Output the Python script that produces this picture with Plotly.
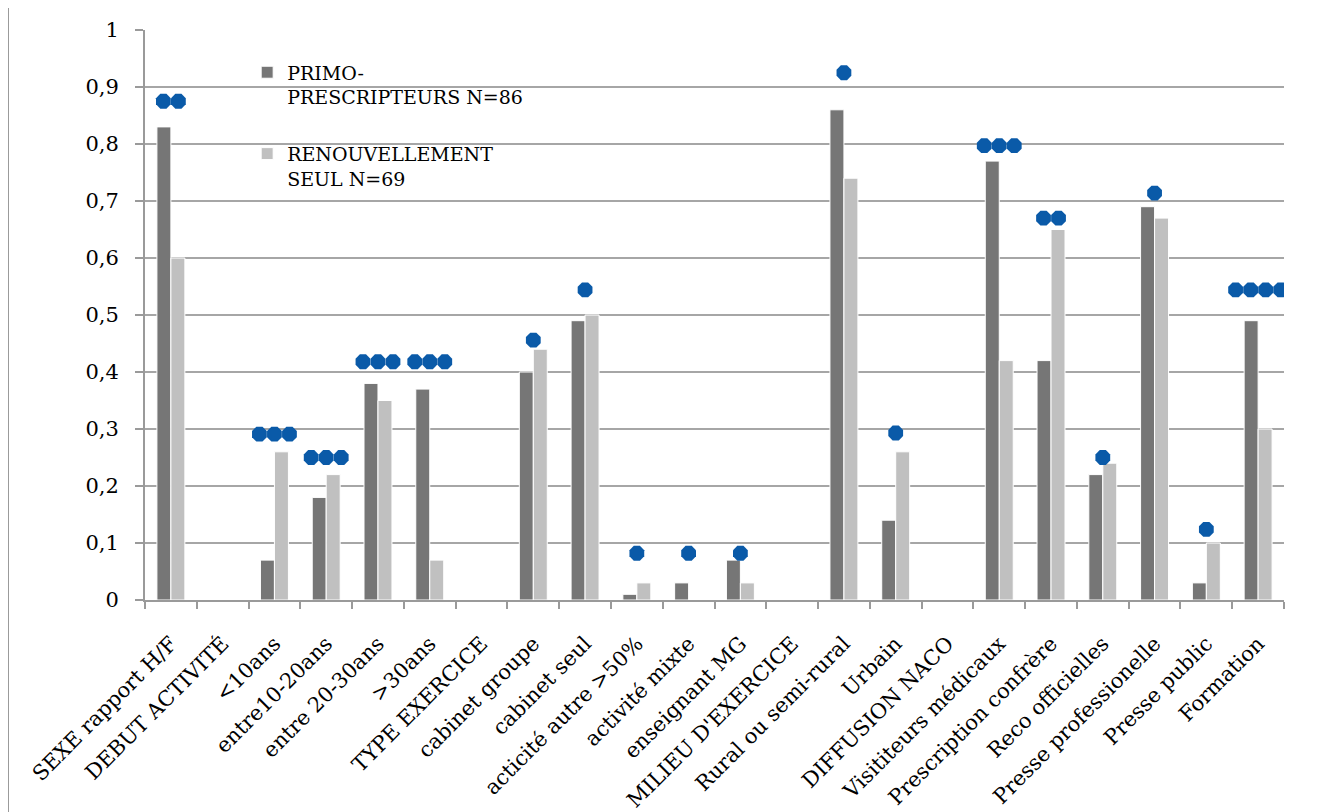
import plotly.graph_objects as go

categories = [
    "SEXE rapport H/F", "DEBUT ACTIVITÉ", "<10ans", "entre10-20ans", "entre 20-30ans",
    ">30ans", "TYPE EXERCICE", "cabinet groupe", "cabinet seul", "acticité autre >50%",
    "activité mixte", "enseignant MG", "MILIEU D'EXERCICE", "Rural ou semi-rural", "Urbain",
    "DIFFUSION NACO", "Visititeurs médicaux", "Prescription confrère", "Reco officielles",
    "Presse professionelle", "Presse public", "Formation",
]
primo = [0.83, None, 0.07, 0.18, 0.38, 0.37, None, 0.40, 0.49, 0.01, 0.03, 0.07, None,
         0.86, 0.14, None, 0.77, 0.42, 0.22, 0.69, 0.03, 0.49]
renouv = [0.60, None, 0.26, 0.22, 0.35, 0.07, None, 0.44, 0.50, 0.03, None, 0.03, None,
          0.74, 0.26, None, 0.42, 0.65, 0.24, 0.67, 0.10, 0.30]
# significance markers: number of stars and their height per category
star_count = [2, 0, 3, 3, 3, 3, 0, 1, 1, 1, 1, 1, 0, 1, 1, 0, 3, 2, 1, 1, 1, 4]
star_level = [0.875, None, 0.291, 0.25, 0.418, 0.418, None, 0.456, 0.544, 0.082, 0.082, 0.082,
              None, 0.925, 0.293, None, 0.797, 0.67, 0.25, 0.714, 0.124, 0.544]
primo_name = "PRIMO-<br>PRESCRIPTEURS N=86"
renouv_name = "RENOUVELLEMENT<br>SEUL N=69"

FONT = "DejaVu Serif"
x_idx = list(range(len(categories)))

fig = go.Figure()
fig.add_trace(go.Bar(x=x_idx, y=primo, name=primo_name, legendgroup="a",
                     marker=dict(color="#767676", line=dict(color="white", width=1))))
fig.add_trace(go.Bar(x=x_idx, y=renouv, name=renouv_name, legendgroup="b",
                     marker=dict(color="#c0c0c0", line=dict(color="white", width=1))))

sx, sy = [], []
step = 0.29
for i, (n, lvl) in enumerate(zip(star_count, star_level)):
    for k in range(n):
        sx.append(i + (k - (n - 1) / 2) * step)
        sy.append(lvl)
fig.add_trace(go.Scatter(x=sx, y=sy, mode="markers", showlegend=False, hoverinfo="skip",
                         marker=dict(symbol="octagon", size=16, color="#0a5aa8",
                                     line=dict(width=0))))

fig.update_layout(
    width=1325, height=804,
    margin=dict(l=137, r=49, t=22, b=212, autoexpand=False),
    paper_bgcolor="white", plot_bgcolor="white",
    separators=", ",
    barmode="group", bargap=0.46, bargroupgap=0,
    font=dict(family=FONT, size=21, color="black"),
    legend=dict(x=0.0897, y=0.959, xanchor="left", yanchor="top",
                font=dict(family=FONT, size=19, color="black"),
                bgcolor="rgba(0,0,0,0)", tracegroupgap=29, itemwidth=30,
                traceorder="grouped", valign="top"),
    xaxis=dict(range=[-0.5, len(categories) - 0.5], tickmode="array", tickvals=x_idx,
               ticktext=categories, tickangle=-45, ticks="", showgrid=False,
               showline=True, linecolor="#9a9a9a", linewidth=2, zeroline=False,
               automargin=False, ticklabelstandoff=21,
               tickfont=dict(family=FONT, size=21, color="black"),
               minor=dict(tickmode="array", tickvals=[i - 0.5 for i in range(len(categories) + 1)],
                          ticks="outside", ticklen=7, tickwidth=2, tickcolor="#9a9a9a",
                          showgrid=False)),
    yaxis=dict(range=[0, 1], dtick=0.1, tick0=0, ticks="outside", ticklen=8, tickwidth=2,
               tickcolor="#9a9a9a", showgrid=True, gridcolor="#a6a6a6", gridwidth=2,
               showline=True, linecolor="#9a9a9a", linewidth=2, zeroline=False,
               ticklabelstandoff=12, automargin=False,
               tickfont=dict(family=FONT, size=21, color="black")),
    shapes=[dict(type="rect", xref="paper", yref="paper", x0=-0.1203, x1=1.0369,
                 y0=-0.38, y1=1.0439, line=dict(color="#9a9a9a", width=2), layer="below")],
)

fig.write_html("out.html")
